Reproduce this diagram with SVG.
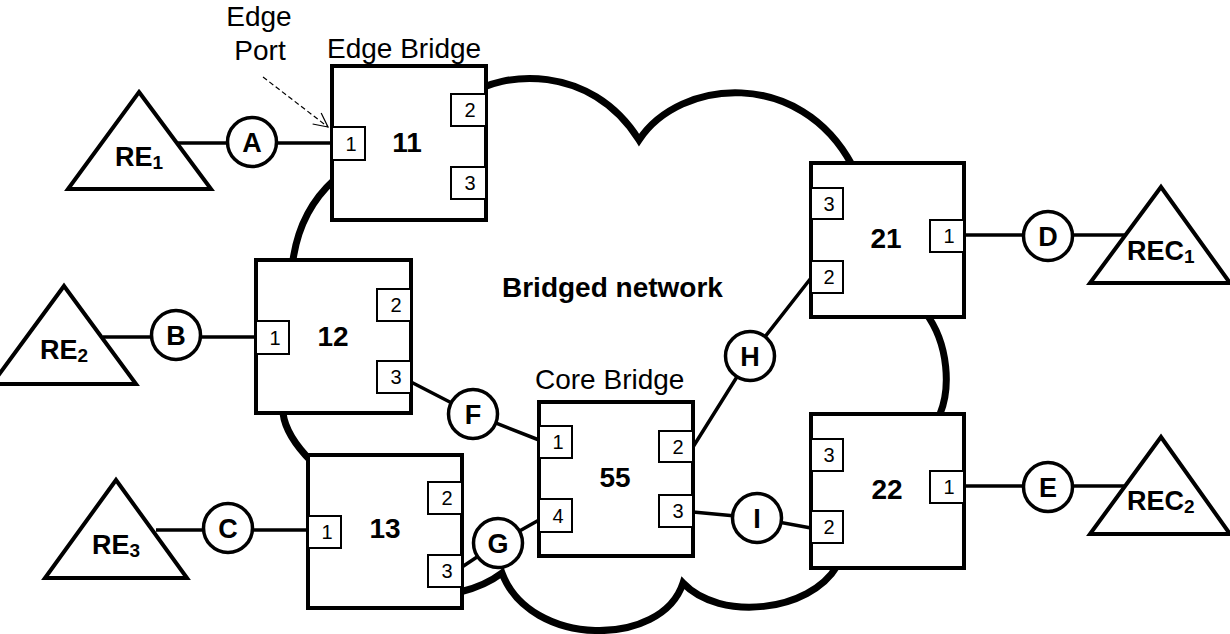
<svg xmlns="http://www.w3.org/2000/svg" width="1230" height="634" viewBox="0 0 1230 634">
<defs>
<style>
.box{fill:#fff;stroke:#000;stroke-width:4}
.port{fill:#fff;stroke:#000;stroke-width:2}
.circ{fill:#fff;stroke:#000;stroke-width:3.5}
.tri{fill:#fff;stroke:#000;stroke-width:4;stroke-linejoin:miter}
.conn{fill:none;stroke:#000;stroke-width:3.5}
.cloud{fill:none;stroke:#000;stroke-width:7;stroke-linejoin:miter}
text{font-family:"Liberation Sans",Arial,sans-serif;fill:#000}
.lbl{font-size:28px}
.num{font-size:28px;font-weight:bold;text-anchor:middle}
.pn{font-size:20px;text-anchor:middle}
.cl{font-size:27px;font-weight:bold;text-anchor:middle}
.re{font-size:27px;font-weight:bold}
.sub{font-size:19px}
</style>
<marker id="open" markerWidth="18" markerHeight="18" refX="15" refY="9" orient="auto" markerUnits="userSpaceOnUse">
<path d="M1,2 L15,9 L1,16" fill="none" stroke="#000" stroke-width="1.2"/>
</marker>
</defs>
<rect width="1230" height="634" fill="#fff"/>

<g id="cloud">
<path class="cloud" d="M470,95 C500,72 590,62 639,140 C680,78 800,68 852,165 L925,312 C950,345 950,390 940,414 L837,566 C810,612 720,622 683,583 C662,648 530,648 502,573 Q485,586 460,592 L312,462 C295,445 285,430 283,413 L293,260 C298,225 312,200 334,180 Z"/>
</g>

<g id="connectors">
<line class="conn" x1="178" y1="143" x2="332" y2="143"/>
<line class="conn" x1="103" y1="337" x2="256" y2="337"/>
<line class="conn" x1="156" y1="530" x2="308" y2="530"/>
<line class="conn" x1="964" y1="235" x2="1125" y2="235"/>
<line class="conn" x1="964" y1="486" x2="1125" y2="486"/>
<polyline class="conn" points="411,382 473,414 539,440"/>
<polyline class="conn" points="462,567 498,543 539,520"/>
<polyline class="conn" points="693,447 750,356 811,278"/>
<polyline class="conn" points="693,512 757,518 811,528"/>
<line x1="263" y1="77" x2="328" y2="127" stroke="#000" stroke-width="1.2" stroke-dasharray="5,3" marker-end="url(#open)"/>
</g>

<g id="bridge11">
<rect class="box" x="332" y="66" width="154" height="154"/>
<rect class="port" x="332" y="127" width="33" height="33"/><text class="pn" x="351" y="151">1</text>
<rect class="port" x="451" y="94" width="35" height="32"/><text class="pn" x="470" y="117">2</text>
<rect class="port" x="451" y="167" width="35" height="32"/><text class="pn" x="470" y="190">3</text>
<text class="num" x="407" y="152">11</text>
</g>
<g id="bridge12">
<rect class="box" x="256" y="260" width="155" height="153"/>
<rect class="port" x="256" y="321" width="33" height="33"/><text class="pn" x="275" y="345">1</text>
<rect class="port" x="377" y="289" width="34" height="32"/><text class="pn" x="396" y="312">2</text>
<rect class="port" x="377" y="361" width="34" height="32"/><text class="pn" x="396" y="384">3</text>
<text class="num" x="333" y="346">12</text>
</g>
<g id="bridge13">
<rect class="box" x="308" y="455" width="154" height="153"/>
<rect class="port" x="308" y="516" width="33" height="32"/><text class="pn" x="327" y="539">1</text>
<rect class="port" x="428" y="482" width="34" height="32"/><text class="pn" x="447" y="505">2</text>
<rect class="port" x="428" y="555" width="34" height="32"/><text class="pn" x="447" y="578">3</text>
<text class="num" x="385" y="538">13</text>
</g>
<g id="bridge55">
<rect class="box" x="539" y="402" width="154" height="154"/>
<rect class="port" x="539" y="426" width="33" height="32"/><text class="pn" x="558" y="449">1</text>
<rect class="port" x="539" y="499" width="33" height="33"/><text class="pn" x="558" y="523">4</text>
<rect class="port" x="659" y="431" width="34" height="31"/><text class="pn" x="678" y="454">2</text>
<rect class="port" x="659" y="495" width="34" height="32"/><text class="pn" x="678" y="518">3</text>
<text class="num" x="615" y="487">55</text>
</g>
<g id="bridge21">
<rect class="box" x="811" y="163" width="153" height="154"/>
<rect class="port" x="811" y="188" width="32" height="31"/><text class="pn" x="829" y="211">3</text>
<rect class="port" x="811" y="261" width="32" height="32"/><text class="pn" x="829" y="284">2</text>
<rect class="port" x="930" y="220" width="34" height="32"/><text class="pn" x="949" y="243">1</text>
<text class="num" x="886" y="248">21</text>
</g>
<g id="bridge22">
<rect class="box" x="811" y="414" width="153" height="154"/>
<rect class="port" x="811" y="439" width="32" height="32"/><text class="pn" x="829" y="462">3</text>
<rect class="port" x="811" y="511" width="32" height="32"/><text class="pn" x="829" y="534">2</text>
<rect class="port" x="930" y="471" width="34" height="32"/><text class="pn" x="949" y="494">1</text>
<text class="num" x="887" y="499">22</text>
</g>

<g id="linkA"><circle class="circ" cx="252" cy="142" r="24.5"/><text class="cl" x="252" y="152">A</text></g>
<g id="linkB"><circle class="circ" cx="176" cy="335" r="24.5"/><text class="cl" x="176" y="345">B</text></g>
<g id="linkC"><circle class="circ" cx="228" cy="528" r="24.5"/><text class="cl" x="228" y="538">C</text></g>
<g id="linkD"><circle class="circ" cx="1048" cy="236" r="24.5"/><text class="cl" x="1048" y="246">D</text></g>
<g id="linkE"><circle class="circ" cx="1048" cy="487" r="24.5"/><text class="cl" x="1048" y="497">E</text></g>
<g id="linkF"><circle class="circ" cx="473" cy="414" r="24.5"/><text class="cl" x="473" y="424">F</text></g>
<g id="linkG"><circle class="circ" cx="498" cy="543" r="24.5"/><text class="cl" x="498" y="553">G</text></g>
<g id="linkH"><circle class="circ" cx="750" cy="356" r="24.5"/><text class="cl" x="750" y="366">H</text></g>
<g id="linkI"><circle class="circ" cx="757" cy="518" r="24.5"/><text class="cl" x="757" y="528">I</text></g>

<g id="RE1"><polygon class="tri" points="139,92 211,189 68,189"/><text class="re" x="115" y="166">RE<tspan class="sub" dy="3">1</tspan></text></g>
<g id="RE2"><polygon class="tri" points="64,286 136,384 -8,384"/><text class="re" x="40" y="359">RE<tspan class="sub" dy="3">2</tspan></text></g>
<g id="RE3"><polygon class="tri" points="116,480 187,578 45,578"/><text class="re" x="92" y="554">RE<tspan class="sub" dy="3">3</tspan></text></g>
<g id="REC1"><polygon class="tri" points="1161,187 1230,283 1090,283"/><text class="re" x="1127" y="260">REC<tspan class="sub" dy="3">1</tspan></text></g>
<g id="REC2"><polygon class="tri" points="1161,437 1230,534 1090,534"/><text class="re" x="1127" y="510">REC<tspan class="sub" dy="3">2</tspan></text></g>

<g id="labels">
<text class="lbl" x="259" y="26" text-anchor="middle">Edge</text>
<text class="lbl" x="260" y="60" text-anchor="middle">Port</text>
<text class="lbl" x="327" y="58">Edge Bridge</text>
<text class="lbl" x="535" y="389">Core Bridge</text>
<text class="lbl" x="502" y="297" font-weight="bold">Bridged network</text>
</g>
</svg>
